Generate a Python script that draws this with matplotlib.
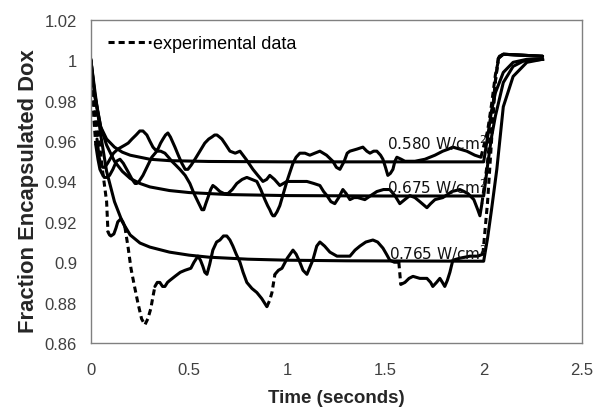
import numpy as np
import matplotlib
matplotlib.use("Agg")
import matplotlib.pyplot as plt
from matplotlib.lines import Line2D

# model curves (solid, smooth)
model_580_t = [0, 0.02, 0.05, 0.08, 0.12, 0.16, 0.2, 0.3, 0.4, 0.6, 1.0, 1.5, 2.0,
               2.02, 2.04, 2.06, 2.1, 2.15, 2.22, 2.3]
model_580_v = [1.0, 0.982, 0.967, 0.961, 0.957, 0.9545, 0.953, 0.951, 0.9503, 0.9499, 0.9497, 0.9497, 0.9497,
               0.962, 0.975, 0.984, 0.994, 0.999, 1.0005, 1.0005]

model_675_t = [0, 0.02, 0.05, 0.08, 0.12, 0.16, 0.2, 0.25, 0.3, 0.4, 0.5, 0.7, 1.0, 1.5, 2.0,
               2.02, 2.04, 2.06, 2.1, 2.15, 2.2, 2.3]
model_675_v = [1.0, 0.983, 0.967, 0.958, 0.950, 0.945, 0.9415, 0.939, 0.9373, 0.9355, 0.9345, 0.9335, 0.933, 0.9328, 0.9328,
               0.948, 0.962, 0.9725, 0.989, 0.997, 0.9995, 1.0005]

model_765_t = [0, 0.02, 0.05, 0.08, 0.12, 0.16, 0.2, 0.25, 0.3, 0.4, 0.5, 0.6, 0.8, 1.0, 1.3, 1.6, 2.0,
               2.02, 2.04, 2.067, 2.1, 2.15, 2.22, 2.3]
model_765_v = [1.0, 0.985, 0.963, 0.945, 0.930, 0.920, 0.9135, 0.9095, 0.9075, 0.905, 0.9035, 0.9025, 0.9015, 0.901, 0.9007, 0.9006, 0.9005,
               0.912, 0.926, 0.946, 0.977, 0.992, 0.999, 1.0005]

# experimental data (wiggly)
exp_580_t = [0, 0.008, 0.015, 0.025, 0.036, 0.046, 0.056, 0.068, 0.081, 0.095, 0.112, 0.13, 0.148, 0.165,
             0.188, 0.21, 0.225, 0.234, 0.245, 0.265, 0.285, 0.31, 0.336, 0.355, 0.377, 0.395, 0.412, 0.433,
             0.453, 0.48, 0.504, 0.525, 0.540, 0.555, 0.565, 0.575, 0.585, 0.596, 0.61, 0.621, 0.635, 0.657,
             0.678, 0.698, 0.72, 0.743, 0.77, 0.794, 0.82, 0.845, 0.865, 0.886, 0.9, 0.911, 0.92, 0.927,
             0.935, 0.948, 0.962, 0.98, 0.998, 1.015, 1.029, 1.045, 1.064, 1.09, 1.115, 1.14, 1.166, 1.2,
             1.232, 1.25, 1.268, 1.29, 1.305, 1.319, 1.354, 1.385, 1.405, 1.421, 1.44, 1.456, 1.475, 1.487,
             1.5, 1.512, 1.525, 1.538, 1.548, 1.558, 1.58, 1.599, 1.65, 1.701, 1.752, 1.792, 1.82, 1.843,
             1.879, 1.914, 1.955, 1.986, 2.02, 2.04, 2.06, 2.08, 2.1, 2.2, 2.3]
exp_580_v = [1.000, 0.985, 0.971, 0.958, 0.951, 0.946, 0.944, 0.942, 0.942, 0.943, 0.946, 0.950, 0.951, 0.949,
             0.945, 0.941, 0.939, 0.939, 0.940, 0.943, 0.947, 0.952, 0.955, 0.955, 0.954, 0.952, 0.950, 0.948,
             0.946, 0.943, 0.939, 0.934, 0.931, 0.928, 0.926, 0.926, 0.929, 0.932, 0.936, 0.938, 0.937, 0.935,
             0.934, 0.934, 0.936, 0.939, 0.941, 0.942, 0.941, 0.940, 0.936, 0.931, 0.928, 0.926, 0.924, 0.923,
             0.923, 0.925, 0.928, 0.934, 0.940, 0.945, 0.949, 0.952, 0.954, 0.954, 0.953, 0.954, 0.955, 0.953,
             0.950, 0.947, 0.946, 0.950, 0.954, 0.955, 0.956, 0.957, 0.955, 0.954, 0.955, 0.955, 0.953, 0.951,
             0.947, 0.943, 0.944, 0.946, 0.950, 0.952, 0.951, 0.950, 0.950, 0.951, 0.953, 0.955, 0.956, 0.957,
             0.956, 0.955, 0.953, 0.952, 0.965, 0.978, 0.993, 1.002, 1.003, 1.0025, 1.002]
exp_580_dash = [(0, 0.03), (1.985, 2.08)]

exp_675_t = [0, 0.015, 0.031, 0.042, 0.051, 0.061, 0.071, 0.085, 0.097, 0.115, 0.137, 0.155, 0.173, 0.19,
             0.209, 0.23, 0.249, 0.265, 0.285, 0.30, 0.316, 0.33, 0.341, 0.355, 0.367, 0.38, 0.392, 0.405,
             0.428, 0.445, 0.463, 0.48, 0.494, 0.51, 0.530, 0.555, 0.580, 0.6, 0.616, 0.63, 0.642, 0.655,
             0.667, 0.688, 0.708, 0.735, 0.759, 0.79, 0.825, 0.85, 0.876, 0.895, 0.911, 0.935, 0.962, 0.98,
             0.998, 1.049, 1.1, 1.135, 1.166, 1.185, 1.202, 1.222, 1.242, 1.262, 1.283, 1.3, 1.319, 1.34,
             1.359, 1.395, 1.425, 1.456, 1.49, 1.522, 1.548, 1.573, 1.598, 1.624, 1.65, 1.675, 1.711, 1.73,
             1.752, 1.792, 1.838, 1.879, 1.9, 1.920, 1.950, 1.970, 1.981, 1.991, 2.02, 2.04, 2.06, 2.075,
             2.1, 2.2, 2.3]
exp_675_v = [1.000, 0.981, 0.961, 0.952, 0.948, 0.947, 0.947, 0.949, 0.951, 0.954, 0.956, 0.957, 0.958, 0.959,
             0.961, 0.963, 0.965, 0.965, 0.963, 0.960, 0.957, 0.9555, 0.956, 0.959, 0.961, 0.963, 0.964, 0.962,
             0.957, 0.953, 0.949, 0.946, 0.946, 0.948, 0.951, 0.955, 0.959, 0.961, 0.962, 0.963, 0.963, 0.962,
             0.961, 0.958, 0.955, 0.954, 0.955, 0.951, 0.946, 0.943, 0.940, 0.941, 0.943, 0.941, 0.938, 0.939,
             0.940, 0.940, 0.940, 0.939, 0.938, 0.935, 0.933, 0.930, 0.929, 0.932, 0.936, 0.934, 0.931, 0.932,
             0.932, 0.931, 0.933, 0.935, 0.936, 0.936, 0.933, 0.929, 0.931, 0.933, 0.932, 0.930, 0.927, 0.929,
             0.931, 0.932, 0.935, 0.936, 0.935, 0.934, 0.931, 0.926, 0.923, 0.929, 0.950, 0.970, 0.990, 1.001,
             1.003, 1.0025, 1.002]
exp_675_dash = [(0, 0.03), (1.99, 2.075)]

exp_765_t = [0, 0.03, 0.06, 0.08, 0.087, 0.095, 0.102, 0.117, 0.128, 0.137, 0.153, 0.163, 0.173, 0.19,
             0.204, 0.22, 0.239, 0.258, 0.275, 0.29, 0.305, 0.316, 0.326, 0.338, 0.351, 0.365, 0.377, 0.39,
             0.402, 0.428, 0.455, 0.479, 0.509, 0.525, 0.545, 0.558, 0.570, 0.58, 0.591, 0.605, 0.621, 0.64,
             0.657, 0.675, 0.692, 0.708, 0.723, 0.74, 0.759, 0.775, 0.794, 0.82, 0.845, 0.87, 0.896, 0.91,
             0.922, 0.937, 0.955, 0.973, 1.0, 1.029, 1.045, 1.064, 1.08, 1.100, 1.13, 1.15, 1.166, 1.19,
             1.217, 1.253, 1.319, 1.345, 1.370, 1.40, 1.436, 1.46, 1.487, 1.505, 1.522, 1.545, 1.568, 1.578,
             1.599, 1.62, 1.640, 1.675, 1.711, 1.73, 1.741, 1.76, 1.777, 1.79, 1.802, 1.815, 1.828, 1.843,
             1.879, 1.930, 1.970, 1.996, 2.02, 2.04, 2.06, 2.075, 2.1, 2.2, 2.3]
exp_765_v = [1.000, 0.970, 0.945, 0.930, 0.915, 0.9135, 0.913, 0.914, 0.917, 0.920, 0.9215, 0.920, 0.9175, 0.907,
             0.897, 0.889, 0.880, 0.872, 0.869, 0.872, 0.877, 0.883, 0.888, 0.890, 0.890, 0.888, 0.888, 0.890,
             0.891, 0.893, 0.895, 0.896, 0.897, 0.900, 0.903, 0.901, 0.898, 0.895, 0.894, 0.899, 0.906, 0.910,
             0.911, 0.913, 0.913, 0.911, 0.908, 0.904, 0.900, 0.895, 0.890, 0.887, 0.885, 0.882, 0.878, 0.881,
             0.885, 0.894, 0.896, 0.897, 0.902, 0.906, 0.904, 0.900, 0.896, 0.894, 0.901, 0.908, 0.910, 0.908,
             0.905, 0.903, 0.903, 0.906, 0.908, 0.910, 0.911, 0.910, 0.907, 0.904, 0.901, 0.900, 0.900, 0.889,
             0.890, 0.892, 0.893, 0.892, 0.892, 0.890, 0.888, 0.890, 0.892, 0.890, 0.888, 0.891, 0.895, 0.901,
             0.902, 0.903, 0.903, 0.904, 0.930, 0.960, 0.990, 1.001, 1.003, 1.0025, 1.002]
exp_765_dash = [(0, 0.087), (0.173, 0.326), (0.896, 0.937), (1.568, 1.578), (1.996, 2.075)]

labels = ["0.580 W/cm$^2$", "0.675 W/cm$^2$", "0.765 W/cm$^2$"]
label_x = [1.51, 1.51, 1.52]
label_y = [0.9596, 0.9378, 0.9051]

xticks = [0, 0.5, 1, 1.5, 2, 2.5]
xtick_labels = ["0", "0.5", "1", "1.5", "2", "2.5"]
yticks = [0.86, 0.88, 0.9, 0.92, 0.94, 0.96, 0.98, 1.0, 1.02]
ytick_labels = ["0.86", "0.88", "0.9", "0.92", "0.94", "0.96", "0.98", "1", "1.02"]

LW = 2.2
DASH = (2.0, 1.3)

plt.rcParams['font.family'] = ['Liberation Sans', 'DejaVu Sans']
fig = plt.figure(figsize=(5.98, 4.10), dpi=100)
ax = fig.add_axes([0.152, 0.161, 0.821, 0.788])


def plot_exp(t, v, dash_ranges):
    # split the series into runs of solid / dashed segments
    t = np.asarray(t)
    v = np.asarray(v)
    styles = []
    for i in range(len(t) - 1):
        mid = (t[i] + t[i + 1]) / 2
        styles.append(any(a <= mid <= b for a, b in dash_ranges))
    start = 0
    for i in range(1, len(styles) + 1):
        if i == len(styles) or styles[i] != styles[start]:
            seg_t = t[start:i + 1]
            seg_v = v[start:i + 1]
            if styles[start]:
                ax.plot(seg_t, seg_v, color='black', lw=LW, dashes=DASH, dash_capstyle='butt')
            else:
                ax.plot(seg_t, seg_v, color='black', lw=LW,
                        solid_capstyle='round', solid_joinstyle='round')
            start = i


for t, v in [(model_580_t, model_580_v), (model_675_t, model_675_v), (model_765_t, model_765_v)]:
    ax.plot(t, v, color='black', lw=LW, solid_joinstyle='round')

plot_exp(exp_580_t, exp_580_v, exp_580_dash)
plot_exp(exp_675_t, exp_675_v, exp_675_dash)
plot_exp(exp_765_t, exp_765_v, exp_765_dash)

for lab, x, y in zip(labels, label_x, label_y):
    ax.text(x, y, lab, fontsize=11, family='DejaVu Sans', ha='left', va='center', color='#111111')

ax.set_xlim(0, 2.5)
ax.set_ylim(0.86, 1.02)
ax.set_xticks(xticks)
ax.set_xticklabels(xtick_labels)
ax.set_yticks(yticks)
ax.set_yticklabels(ytick_labels)
ax.tick_params(length=0, labelsize=12, labelcolor='#404040')
ax.tick_params(axis='x', pad=14)
ax.tick_params(axis='y', pad=10)
for s in ax.spines.values():
    s.set_color('#808080')
    s.set_linewidth(1.0)

ax.set_xlabel("Time (seconds)", fontsize=13.5, fontweight='bold', color='#262626', labelpad=8)
ax.set_ylabel("Fraction Encapsulated Dox", fontsize=15.8, fontweight='bold', color='#262626')
ax.yaxis.set_label_coords(-0.105, 0.474)

handle = Line2D([], [], color='black', lw=LW, dashes=DASH)
ax.legend([handle], ["experimental data"], loc='upper left', bbox_to_anchor=(0.02, 0.975),
          frameon=False, handlelength=2.4, handletextpad=0.1, fontsize=13, borderaxespad=0)

fig.savefig("out.png", dpi=100)
